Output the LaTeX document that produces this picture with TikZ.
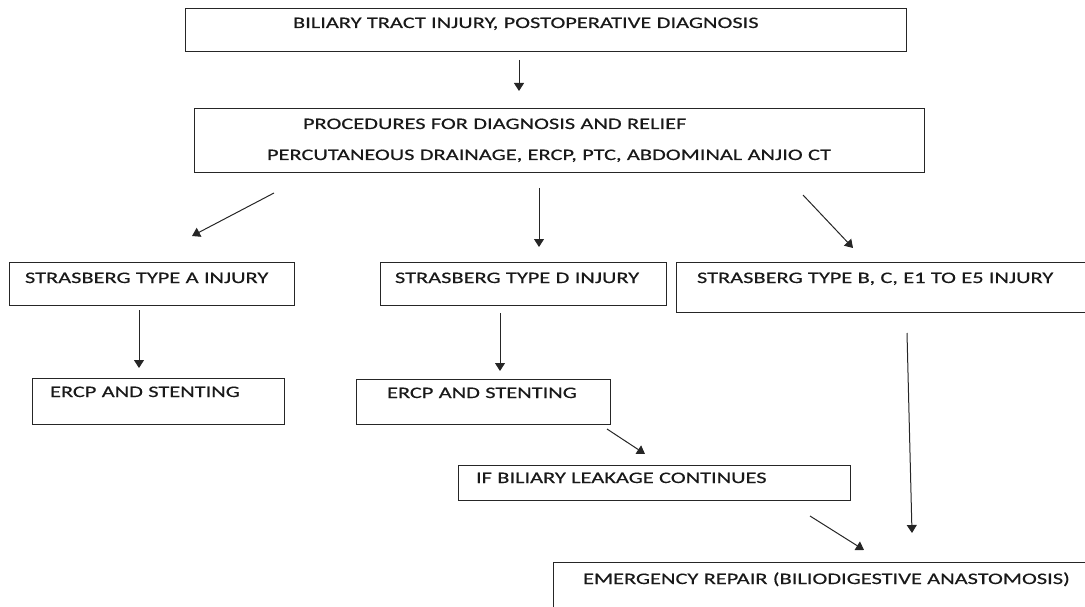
\documentclass[tikz,border=0pt]{standalone}
\usepackage{fontspec}
\setmainfont{Carlito}[FakeStretch=1.4,FakeBold=0.4]
\usetikzlibrary{arrows.meta,calc}

\begin{document}
\begin{tikzpicture}[
  x=1pt,y=-1pt,
  >={Triangle[length=8pt,width=10pt]},
  box/.style={draw=black!85,line width=1pt,anchor=north west,inner sep=0pt,outer sep=0pt,text=black!90,font=\fontsize{16}{19}\selectfont},
  lm/.style={execute at begin node={\leftskip=#1\relax\parindent=0pt}},
  flow/.style={->,line width=1pt,draw=black!85}
]
\useasboundingbox (0,0) rectangle (1085,607);
\node[box,text width=721pt,lm=108pt,text height=19pt,text depth=24pt] (diag) at (185,9) {BILIARY TRACT INJURY, POSTOPERATIVE DIAGNOSIS};
\node[box,text width=730pt,lm=73pt,text height=20pt,text depth=44pt] (proc) at (194,109) {\hspace*{36pt}PROCEDURES FOR DIAGNOSIS AND RELIEF\\[12pt]PERCUTANEOUS DRAINAGE, ERCP, PTC, ABDOMINAL ANJIO CT};
\node[box,text width=285pt,lm=16pt,text height=21pt,text depth=22pt] (injA) at (9,262) {STRASBERG TYPE A INJURY};
\node[box,text width=286pt,lm=15pt,text height=21pt,text depth=22pt] (injD) at (380,262) {STRASBERG TYPE D INJURY};
\node[box,text width=413pt,lm=21pt,text height=21pt,text depth=29pt] (injB) at (676,262) {STRASBERG TYPE B, C, E1 TO E5 INJURY};
\node[box,text width=252pt,lm=18pt,text height=19pt,text depth=27pt] (ercpA) at (32,378) {ERCP AND STENTING};
\node[box,text width=254pt,lm=31pt,text height=19pt,text depth=26pt] (ercpD) at (356,379) {ERCP AND STENTING};
\node[box,text width=392pt,lm=18pt,text height=18pt,text depth=17pt] (leak) at (458,465) {IF BILIARY LEAKAGE CONTINUES};
\node[box,text width=540pt,lm=30pt,text height=22pt,text depth=50pt] (repair) at (553,562) {EMERGENCY REPAIR (BILIODIGESTIVE ANASTOMOSIS)};
\draw[flow] ($(diag.south west)+(334,8)$) -- ($(proc.north west)+(325,-18)$);
\draw[flow] ($(proc.south west)+(80,20)$) -- ($(injA.north west)+(183,-26)$);
\draw[flow] ($(proc.south west)+(345,15)$) -- ($(injD.north west)+(159,-15)$);
\draw[flow] ($(proc.south west)+(609,22)$) -- ($(injB.north west)+(177,-14)$);
\draw[flow] ($(injA.south west)+(130,5)$) -- ($(ercpA.north west)+(107,-10)$);
\draw[flow] ($(injD.south west)+(120,8)$) -- ($(ercpD.north west)+(144,-8)$);
\draw[flow] ($(ercpD.south east)+(-3,5)$) -- ($(leak.north west)+(187,-11)$);
\draw[flow] ($(leak.south east)+(-40,16)$) -- ($(repair.north west)+(311,-12)$);
\draw[flow] ($(injB.south west)+(231,21)$) -- ($(repair.north west)+(359,-29)$);
\end{tikzpicture}
\end{document}
